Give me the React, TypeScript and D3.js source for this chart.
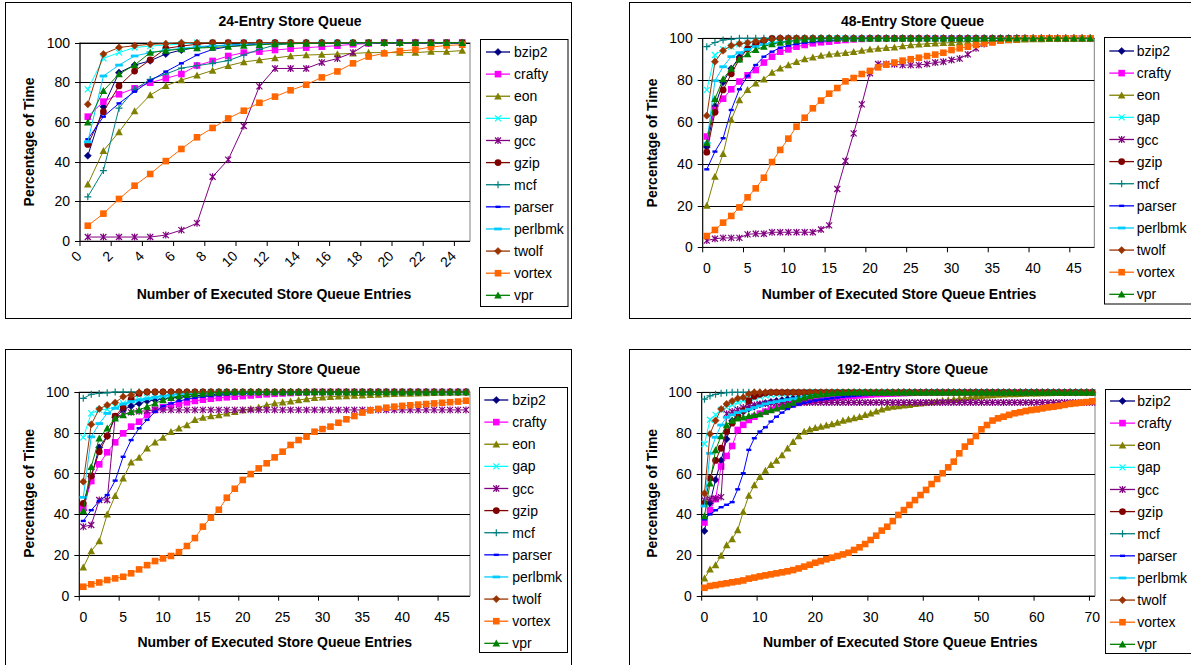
import React from 'react';
import * as d3 from 'd3';

const seriesNames = ['bzip2', 'crafty', 'eon', 'gap', 'gcc', 'gzip', 'mcf', 'parser', 'perlbmk', 'twolf', 'vortex', 'vpr'];
const seriesColors = ['#000080', '#FF00FF', '#808000', '#00FFFF', '#800080', '#800000', '#008080', '#0000FF', '#00CCFF', '#993300', '#FF6600', '#008000'];
const seriesMarkers = ['diamond', 'square', 'triangle', 'x', 'star', 'circle', 'plus', 'dash', 'longdash', 'diamond', 'square', 'triangle'];

const yTicks = [0, 20, 40, 60, 80, 100];
const xLabels24 = [0, 2, 4, 6, 8, 10, 12, 14, 16, 18, 20, 22, 24];
const xLabels48 = [0, 5, 10, 15, 20, 25, 30, 35, 40, 45];
const xLabels96 = [0, 5, 10, 15, 20, 25, 30, 35, 40, 45];
const xLabels192 = [0, 10, 20, 30, 40, 50, 60, 70];

// 24-entry store queue: categories 0..24, series in seriesNames order
const q24: number[][] = [
  [43, 67.7, 84.9, 88.7, 90.9, 94.3, 96.3, 97.6, 98.3, 98.8, 99.3, 99.6, 100, 100, 100, 100, 100, 100, 100, 100, 100, 100, 100, 100, 100],
  [62.7, 70.3, 74, 77, 79.8, 82, 84.2, 88.5, 90.8, 93.3, 95, 95.5, 96.3, 97, 97.5, 98, 98.5, 99.2, 99.6, 100, 100, 100, 100, 100, 100],
  [28.6, 45.5, 55, 65.5, 73.6, 78.3, 81.2, 83.5, 86, 88.4, 90.3, 91.3, 92.3, 93.3, 93.8, 94, 94.3, 94.6, 95, 95, 95, 95, 95.5, 95.5, 96],
  [76.5, 92.1, 95, 97.6, 98.3, 98.8, 99.3, 100, 100, 100, 100, 100, 100, 100, 100, 100, 100, 100, 100, 100, 100, 100, 100, 100, 100],
  [2, 2, 2, 2, 2, 3, 5.5, 9, 32.4, 41, 58, 78, 87, 87, 87, 90, 92, 95, 100, 100, 100, 100, 100, 100, 100],
  [48.7, 65.2, 78.2, 85.7, 91.3, 97.1, 98.3, 99.2, 100, 100, 100, 100, 100, 100, 100, 100, 100, 100, 100, 100, 100, 100, 100, 100, 100],
  [22.3, 35.5, 67, 76.5, 81.5, 84.2, 87.2, 88.4, 89.6, 91, 93.8, 96.6, 98.8, 99.5, 100, 100, 100, 100, 100, 100, 100, 100, 100, 100, 100],
  [51.3, 62.7, 69.4, 75.3, 80.8, 85.4, 89.6, 93.8, 96.6, 98, 98.8, 99.3, 100, 100, 100, 100, 100, 100, 100, 100, 100, 100, 100, 100, 100],
  [50, 83.2, 88.7, 93.3, 95, 96.3, 97.1, 98, 98.5, 98.8, 99.2, 99.5, 100, 100, 100, 100, 100, 100, 100, 100, 100, 100, 100, 100, 100],
  [68.9, 94.3, 97.6, 98.5, 99.2, 99.5, 100, 100, 100, 100, 100, 100, 100, 100, 100, 100, 100, 100, 100, 100, 100, 100, 100, 100, 100],
  [7.7, 13.8, 21.2, 27.9, 33.8, 40.3, 46.4, 52.3, 57, 61.8, 65.7, 69.7, 72.8, 76, 78.8, 82.5, 85.5, 89.6, 93, 94.6, 95.8, 96.5, 97.8, 98.6, 99],
  [59.8, 75.8, 84.2, 88.7, 95, 96, 96.8, 97.3, 97.6, 98, 98.5, 99, 99.3, 99.5, 99.6, 99.7, 99.8, 100, 100, 100, 100, 100, 100, 100, 100],
];

// 48-entry store queue: categories 0..47
const q48: number[][] = [
  [48, 67.5, 79, 85.5, 91, 95, 97, 98.5, 99.5, 100,
    100, 100, 100, 100, 100, 100, 100, 100, 100, 100,
    100, 100, 100, 100, 100, 100, 100, 100, 100, 100,
    100, 100, 100, 100, 100, 100, 100, 100, 100, 100,
    100, 100, 100, 100, 100, 100, 100, 100],
  [53, 65.7, 71.1, 75.6, 79.3, 82.3, 84.8, 88.4, 91.2, 93.6,
    94.7, 96, 96.8, 97.6, 98.1, 98.4, 98.9, 99.2, 99.5, 99.7,
    100, 100, 100, 100, 100, 100, 100, 100, 100, 100,
    100, 100, 100, 100, 100, 100, 100, 100, 100, 100,
    100, 100, 100, 100, 100, 100, 100, 100],
  [20, 33.8, 44.7, 61, 70.5, 75.3, 78.5, 80.4, 83.6, 85.6,
    87.2, 88.7, 90.1, 90.9, 91.7, 92.3, 92.7, 93.1, 93.6, 94.1,
    94.7, 95.1, 95.4, 95.7, 96.3, 96.8, 97.1, 97.4, 97.6, 97.8,
    97.9, 98.2, 98.4, 98.6, 98.7, 98.9, 99, 99.2, 99.3, 99.5,
    99.6, 99.7, 99.8, 99.9, 100, 100, 100, 100],
  [75.3, 92, 94.7, 96, 97.1, 97.9, 98.4, 98.9, 99.3, 99.6,
    100, 100, 100, 100, 100, 100, 100, 100, 100, 100,
    100, 100, 100, 100, 100, 100, 100, 100, 100, 100,
    100, 100, 100, 100, 100, 100, 100, 100, 100, 100,
    100, 100, 100, 100, 100, 100, 100, 100],
  [3.2, 4.1, 4.5, 4.5, 4.5, 6.2, 6.5, 6.5, 7.2, 7.2,
    7.2, 7.2, 7.2, 7.2, 8.5, 10.5, 27.9, 41.3, 54.5, 68.4,
    83.3, 87.7, 87.7, 87.6, 87.2, 87.2, 87.2, 87.7, 88.4, 88.8,
    89.6, 90.3, 92.3, 95.2, 97.3, 98.4, 99.2, 99.6, 100, 100,
    100, 100, 100, 100, 100, 100, 100, 100],
  [45.5, 64.6, 75.3, 83, 90, 95, 97.5, 99, 100, 100,
    100, 100, 100, 100, 100, 100, 100, 100, 100, 100,
    100, 100, 100, 100, 100, 100, 100, 100, 100, 100,
    100, 100, 100, 100, 100, 100, 100, 100, 100, 100,
    100, 100, 100, 100, 100, 100, 100, 100],
  [96, 98, 99.2, 99.5, 100, 100, 100, 100, 100, 100,
    100, 100, 100, 100, 100, 100, 100, 100, 100, 100,
    100, 100, 100, 100, 100, 100, 100, 100, 100, 100,
    100, 100, 100, 100, 100, 100, 100, 100, 100, 100,
    100, 100, 100, 100, 100, 100, 100, 100],
  [37.3, 45.8, 52.2, 65.7, 75.6, 82, 87.2, 91.2, 93.6, 95.5,
    96.5, 97.3, 97.9, 98.2, 98.6, 98.9, 99.3, 99.6, 100, 100,
    100, 100, 100, 100, 100, 100, 100, 100, 100, 100,
    100, 100, 100, 100, 100, 100, 100, 100, 100, 100,
    100, 100, 100, 100, 100, 100, 100, 100],
  [49.8, 79.7, 86.4, 91.2, 93.1, 94.7, 96, 97, 97.6, 98.1,
    98.4, 99, 99.4, 99.7, 100, 100, 100, 100, 100, 100,
    100, 100, 100, 100, 100, 100, 100, 100, 100, 100,
    100, 100, 100, 100, 100, 100, 100, 100, 100, 100,
    100, 100, 100, 100, 100, 100, 100, 100],
  [63, 88.8, 94.1, 96.5, 97.4, 97.9, 98.6, 99, 99.5, 100,
    100, 100, 100, 100, 100, 100, 100, 100, 100, 100,
    100, 100, 100, 100, 100, 100, 100, 100, 100, 100,
    100, 100, 100, 100, 100, 100, 100, 100, 100, 100,
    100, 100, 100, 100, 100, 100, 100, 100],
  [5.4, 8.3, 11.8, 15, 19.1, 23.9, 28.2, 33.3, 40.8, 46.6,
    52, 57.7, 62, 66.5, 70.2, 73.5, 76.2, 79.4, 81, 82.9,
    84.4, 86.1, 87.4, 88.4, 89.3, 90, 90.7, 91.5, 92.2, 93.1,
    94.4, 95.2, 96, 96.8, 97.6, 98, 98.9, 99.3, 99.6, 99.8,
    100, 100, 100, 100, 100, 100, 100, 100],
  [50, 71, 80.5, 85.5, 90, 92.5, 94.5, 96, 97.3, 98,
    98.5, 99, 99.5, 99.7, 100, 100, 100, 100, 100, 100,
    100, 100, 100, 100, 100, 100, 100, 100, 100, 100,
    100, 100, 100, 100, 100, 100, 100, 100, 100, 100,
    100, 100, 100, 100, 100, 100, 100, 100],
];

// 96-entry store queue: categories 0..48
const q96: number[][] = [
  [42, 58.4, 72.8, 78.4, 87.6, 91.2, 93.1, 94.4, 95.6, 96.1,
    96.7, 97.1, 97.4, 97.8, 98.1, 98.4, 98.7, 99, 99.2, 99.4,
    99.6, 99.8, 100, 100, 100, 100, 100, 100, 100, 100,
    100, 100, 100, 100, 100, 100, 100, 100, 100, 100,
    100, 100, 100, 100, 100, 100, 100, 100, 100],
  [43, 56.3, 64.5, 70.4, 75.3, 79.7, 83, 85.4, 88.7, 91.2,
    92.5, 93.5, 94.3, 94.9, 95.6, 96.2, 96.7, 97.1, 97.4, 97.7,
    98, 98.3, 98.6, 98.9, 99.1, 99.3, 99.5, 99.7, 99.8, 100,
    100, 100, 100, 100, 100, 100, 100, 100, 100, 100,
    100, 100, 100, 100, 100, 100, 100, 100, 100],
  [13.9, 21.9, 26.8, 39.9, 49.1, 57.6, 65.5, 67.8, 72.3, 75.3,
    77.7, 80.5, 82.2, 83.8, 86.3, 87.4, 88.2, 88.7, 89.5, 90.3,
    91.2, 91.8, 92.5, 93.6, 94.4, 94.9, 95.4, 96.1, 96.6, 97.1,
    97.4, 97.7, 97.9, 98, 98.2, 98.4, 98.6, 98.8, 99, 99.1,
    99.2, 99.3, 99.4, 99.5, 99.6, 99.7, 99.8, 99.9, 100],
  [77.7, 89.5, 91.2, 91.5, 92.8, 94.4, 95.7, 96.4, 97.1, 97.7,
    98.3, 98.8, 99.2, 99.5, 99.8, 100, 100, 100, 100, 100,
    100, 100, 100, 100, 100, 100, 100, 100, 100, 100,
    100, 100, 100, 100, 100, 100, 100, 100, 100, 100,
    100, 100, 100, 100, 100, 100, 100, 100, 100],
  [33.9, 34.7, 47, 47, 87.9, 89, 90, 90.5, 90.8, 91.2,
    91.2, 91.2, 91.2, 91.2, 91.2, 91.2, 91.2, 91.2, 91.2, 91.2,
    91.2, 91.2, 91.2, 91.2, 91.2, 91.2, 91.2, 91.2, 91.2, 91.2,
    91.2, 91.2, 91.2, 91.2, 91.2, 91.2, 91.2, 91.2, 91.2, 91.2,
    91.2, 91.2, 91.2, 91.2, 91.2, 91.2, 91.2, 91.2, 91.2],
  [45.3, 58.8, 70.7, 78.4, 88.2, 92.5, 96.4, 99.3, 100, 100,
    100, 100, 100, 100, 100, 100, 100, 100, 100, 100,
    100, 100, 100, 100, 100, 100, 100, 100, 100, 100,
    100, 100, 100, 100, 100, 100, 100, 100, 100, 100,
    100, 100, 100, 100, 100, 100, 100, 100, 100],
  [96.9, 98.9, 99.3, 99.6, 100, 100, 100, 100, 100, 100,
    100, 100, 100, 100, 100, 100, 100, 100, 100, 100,
    100, 100, 100, 100, 100, 100, 100, 100, 100, 100,
    100, 100, 100, 100, 100, 100, 100, 100, 100, 100,
    100, 100, 100, 100, 100, 100, 100, 100, 100],
  [36.7, 42, 46.5, 49.4, 56.5, 68.2, 76.4, 82.2, 86.3, 90.3,
    93.1, 94.4, 95.6, 96.4, 97.2, 97.7, 98, 98.4, 98.7, 99,
    99.2, 99.4, 99.6, 99.8, 100, 100, 100, 100, 100, 100,
    100, 100, 100, 100, 100, 100, 100, 100, 100, 100,
    100, 100, 100, 100, 100, 100, 100, 100, 100],
  [48.3, 78, 84.5, 89.5, 92, 94.1, 95.3, 96.1, 96.7, 97.4,
    98, 98.5, 99, 99.3, 99.6, 99.8, 100, 100, 100, 100,
    100, 100, 100, 100, 100, 100, 100, 100, 100, 100,
    100, 100, 100, 100, 100, 100, 100, 100, 100, 100,
    100, 100, 100, 100, 100, 100, 100, 100, 100],
  [56, 84.1, 91.7, 93.6, 94.8, 97.7, 98.5, 99.8, 100, 100,
    100, 100, 100, 100, 100, 100, 100, 100, 100, 100,
    100, 100, 100, 100, 100, 100, 100, 100, 100, 100,
    100, 100, 100, 100, 100, 100, 100, 100, 100, 100,
    100, 100, 100, 100, 100, 100, 100, 100, 100],
  [4.4, 5.6, 6.5, 7.7, 8.5, 9.3, 11, 12.9, 15, 17,
    18.3, 19.5, 21.4, 24.4, 28.3, 33.9, 38.3, 42.2, 48.1, 52.5,
    56.8, 59.7, 62.5, 65, 67.9, 70.7, 74, 76.4, 78.1, 80.5,
    81.8, 83, 84.9, 86.6, 88.2, 89.9, 91, 91.7, 92.3, 92.8,
    93.2, 93.5, 93.8, 94.1, 94.4, 94.7, 95, 95.3, 95.7],
  [41.7, 63.3, 77.3, 82.2, 87.1, 88.7, 90.3, 91.2, 92.8, 94.4,
    96.1, 97.2, 98, 98.6, 99, 99.3, 99.5, 99.7, 99.8, 100,
    100, 100, 100, 100, 100, 100, 100, 100, 100, 100,
    100, 100, 100, 100, 100, 100, 100, 100, 100, 100,
    100, 100, 100, 100, 100, 100, 100, 100, 100],
];

// 192-entry store queue: categories 0..70
const q192: number[][] = [
  [31.8, 45.5, 57, 66.5, 77, 86, 88.7, 90.5, 92, 93,
    94, 94.7, 95.3, 95.8, 96.2, 96.6, 97, 97.3, 97.6, 97.9,
    98.1, 98.3, 98.5, 98.7, 98.9, 99, 99.1, 99.2, 99.3, 99.4,
    99.5, 99.6, 99.7, 99.8, 99.9, 100, 100, 100, 100, 100,
    100, 100, 100, 100, 100, 100, 100, 100, 100, 100,
    100, 100, 100, 100, 100, 100, 100, 100, 100, 100,
    100, 100, 100, 100, 100, 100, 100, 100, 100, 100, 100],
  [36, 42, 47.5, 63.5, 68.7, 73.6, 81.5, 84, 86.4, 88,
    89.5, 90.5, 91.5, 92.3, 93, 93.6, 94.2, 94.8, 95.3, 95.8,
    96.2, 96.6, 97, 97.3, 97.6, 97.9, 98.1, 98.3, 98.5, 98.7,
    98.9, 99.1, 99.2, 99.3, 99.4, 99.5, 99.6, 99.7, 99.8, 99.9,
    100, 100, 100, 100, 100, 100, 100, 100, 100, 100,
    100, 100, 100, 100, 100, 100, 100, 100, 100, 100,
    100, 100, 100, 100, 100, 100, 100, 100, 100, 100, 100],
  [8.5, 13, 15.1, 19.7, 24.9, 27.9, 32.3, 41.3, 49.2, 54.4,
    58.5, 61.5, 64.3, 66.4, 69.2, 72.5, 75.7, 78.5, 80.7, 81.8,
    82.6, 83.1, 83.8, 84.4, 85.1, 86.1, 86.7, 87.4, 88, 88.9,
    89.7, 90.7, 91.6, 92.5, 93, 93.3, 93.6, 93.9, 94.3, 94.6,
    94.9, 95.2, 95.6, 95.9, 96.2, 96.6, 96.9, 97.2, 97.5, 97.9,
    98.2, 98.5, 98.7, 98.9, 99, 99.1, 99.2, 99.3, 99.4, 99.5,
    99.5, 99.6, 99.6, 99.7, 99.7, 99.8, 99.8, 99.9, 99.9, 100, 100],
  [74.6, 86.5, 88.9, 91.3, 92.6, 93.8, 94.9, 95.9, 96.6, 97.2,
    97.9, 98.4, 98.8, 99.1, 99.4, 99.6, 99.8, 100, 100, 100,
    100, 100, 100, 100, 100, 100, 100, 100, 100, 100,
    100, 100, 100, 100, 100, 100, 100, 100, 100, 100,
    100, 100, 100, 100, 100, 100, 100, 100, 100, 100,
    100, 100, 100, 100, 100, 100, 100, 100, 100, 100,
    100, 100, 100, 100, 100, 100, 100, 100, 100, 100, 100],
  [47, 47.5, 47.8, 48.5, 89.5, 90.5, 91.5, 92.5, 93.3, 93.8,
    94.2, 94.5, 94.8, 95, 95, 95, 95, 95, 95, 95,
    95, 95, 95, 95, 95, 95, 95, 95, 95, 95,
    95, 95, 95, 95, 95, 95, 95, 95, 95, 95,
    95, 95, 95, 95, 95, 95, 95, 95, 95, 95,
    95, 95, 95, 95, 95, 95, 95, 95, 95, 95,
    95, 95, 95, 95, 95, 95, 95, 95, 95, 95, 95],
  [45.4, 57.7, 66.5, 72.5, 80.7, 84.8, 88, 91, 95.9, 98,
    99, 99.6, 100, 100, 100, 100, 100, 100, 100, 100,
    100, 100, 100, 100, 100, 100, 100, 100, 100, 100,
    100, 100, 100, 100, 100, 100, 100, 100, 100, 100,
    100, 100, 100, 100, 100, 100, 100, 100, 100, 100,
    100, 100, 100, 100, 100, 100, 100, 100, 100, 100,
    100, 100, 100, 100, 100, 100, 100, 100, 100, 100, 100],
  [96.6, 98.2, 99, 99.5, 99.8, 100, 100, 100, 100, 100,
    100, 100, 100, 100, 100, 100, 100, 100, 100, 100,
    100, 100, 100, 100, 100, 100, 100, 100, 100, 100,
    100, 100, 100, 100, 100, 100, 100, 100, 100, 100,
    100, 100, 100, 100, 100, 100, 100, 100, 100, 100,
    100, 100, 100, 100, 100, 100, 100, 100, 100, 100,
    100, 100, 100, 100, 100, 100, 100, 100, 100, 100, 100],
  [37.5, 40, 42, 43.5, 44.7, 46, 52.3, 60.2, 71.7, 77.4,
    80.7, 82.8, 85.6, 88, 90, 91.8, 93, 94, 94.8, 95.4,
    96, 96.4, 96.8, 97.1, 97.4, 97.7, 98, 98.2, 98.4, 98.6,
    98.8, 99, 99.2, 99.4, 99.6, 99.8, 100, 100, 100, 100,
    100, 100, 100, 100, 100, 100, 100, 100, 100, 100,
    100, 100, 100, 100, 100, 100, 100, 100, 100, 100,
    100, 100, 100, 100, 100, 100, 100, 100, 100, 100, 100],
  [44.1, 70, 77.9, 83.9, 87.7, 88.9, 90, 90.8, 91.6, 92.5,
    93.3, 94.3, 94.9, 95.4, 95.9, 96.4, 96.8, 97.2, 97.6, 98,
    98.3, 98.6, 98.9, 99.1, 99.3, 99.5, 99.7, 99.9, 100, 100,
    100, 100, 100, 100, 100, 100, 100, 100, 100, 100,
    100, 100, 100, 100, 100, 100, 100, 100, 100, 100,
    100, 100, 100, 100, 100, 100, 100, 100, 100, 100,
    100, 100, 100, 100, 100, 100, 100, 100, 100, 100, 100],
  [50.3, 79.5, 86.1, 91.8, 94.3, 95.7, 97, 97.5, 99.2, 100,
    100, 100, 100, 100, 100, 100, 100, 100, 100, 100,
    100, 100, 100, 100, 100, 100, 100, 100, 100, 100,
    100, 100, 100, 100, 100, 100, 100, 100, 100, 100,
    100, 100, 100, 100, 100, 100, 100, 100, 100, 100,
    100, 100, 100, 100, 100, 100, 100, 100, 100, 100,
    100, 100, 100, 100, 100, 100, 100, 100, 100, 100, 100],
  [3.9, 4.8, 5.2, 5.7, 6.1, 6.6, 7, 7.5, 8.4, 8.9,
    9.5, 10, 10.5, 11, 11.5, 12, 12.6, 13.4, 14.3, 15.2,
    16.2, 17, 17.9, 18.7, 19.5, 20.3, 21.1, 22.5, 23.8, 25.4,
    27.4, 29.5, 32, 33.9, 36.7, 39.7, 42.1, 44.6, 47, 49.5,
    52, 54.9, 57.4, 60.2, 63.1, 65.9, 70, 73.3, 75.7, 78.5,
    81.8, 83.9, 86.1, 87.2, 88, 88.9, 89.7, 90.2, 90.8, 91.3,
    91.6, 92.1, 92.6, 92.9, 93.3, 93.8, 94.3, 94.6, 94.9, 95.2, 95.6],
  [39.2, 55.2, 71.6, 78.5, 83.9, 86.1, 87.2, 87.7, 88.4, 88.9,
    89.3, 90.5, 91.3, 92.1, 93, 93.8, 94.9, 96.6, 97.5, 98.2,
    98.7, 99, 99.3, 99.5, 99.7, 99.9, 100, 100, 100, 100,
    100, 100, 100, 100, 100, 100, 100, 100, 100, 100,
    100, 100, 100, 100, 100, 100, 100, 100, 100, 100,
    100, 100, 100, 100, 100, 100, 100, 100, 100, 100,
    100, 100, 100, 100, 100, 100, 100, 100, 100, 100, 100],
];

type PanelCfg = {
  title: string;
  data: number[][];
  n: number;
  labels: number[];
  rotated: boolean;
  frame: [number, number, number, number];
  plot: [number, number, number, number]; // x0, x1, yTop(100), yBot(0)
  titleXY: [number, number];
  yTitleXY: [number, number];
  xTitleXY: [number, number];
  labelY: number;
  legend: { x: number; y: number; w: number; h: number; first: number; step: number; s0: number; s1: number; tx: number };
};

const panels: PanelCfg[] = [
  {
    title: '24-Entry Store Queue', data: q24, n: 25, labels: xLabels24, rotated: true,
    frame: [5.5, 2.5, 566, 316], plot: [80, 470, 42.7, 241],
    titleXY: [290, 26], yTitleXY: [28.5, 142], xTitleXY: [274, 299], labelY: 257,
    legend: { x: 480.5, y: 39.5, w: 87.5, h: 267, first: 52, step: 22.12, s0: 486, s1: 510, tx: 514 },
  },
  {
    title: '48-Entry Store Queue', data: q48, n: 48, labels: xLabels48, rotated: false,
    frame: [629.5, 2.5, 600, 316], plot: [702.7, 1094.3, 38.3, 247.3],
    titleXY: [912.5, 26], yTitleXY: [651.7, 143], xTitleXY: [899, 299], labelY: 273,
    legend: { x: 1104.5, y: 37.5, w: 120, h: 266.5, first: 51, step: 22.12, s0: 1109.3, s1: 1134, tx: 1136.7 },
  },
  {
    title: '96-Entry Store Queue', data: q96, n: 49, labels: xLabels96, rotated: false,
    frame: [5.5, 349.5, 566, 330], plot: [79.3, 470, 392, 595.7],
    titleXY: [288.7, 374], yTitleXY: [28.5, 493.3], xTitleXY: [274.7, 647], labelY: 622.3,
    legend: { x: 479.5, y: 387.5, w: 88, h: 265, first: 400, step: 22.12, s0: 484.3, s1: 508.3, tx: 512.3 },
  },
  {
    title: '192-Entry Store Queue', data: q192, n: 71, labels: xLabels192, rotated: false,
    frame: [629.5, 349.5, 600, 330], plot: [701.7, 1095, 392.3, 595.7],
    titleXY: [912.5, 374], yTitleXY: [651.7, 493.3], xTitleXY: [900.3, 647], labelY: 622.3,
    legend: { x: 1105.5, y: 389.5, w: 120, h: 264, first: 401, step: 22.12, s0: 1110, s1: 1135, tx: 1137.3 },
  },
];

const FONT = 'Liberation Sans, Arial, Helvetica, sans-serif';

function Marker({ kind, x, y, color }: { kind: string; x: number; y: number; color: string }) {
  const t = `translate(${x},${y})`;
  switch (kind) {
    case 'diamond':
      return <path transform={t} d="M0,-3.6L3.6,0L0,3.6L-3.6,0Z" fill={color} stroke={color} strokeWidth={0.5} />;
    case 'square':
      return <rect transform={t} x={-3.3} y={-3.3} width={6.6} height={6.6} fill={color} />;
    case 'triangle':
      return <path transform={t} d="M0,-3.8L3.8,3.2L-3.8,3.2Z" fill={color} />;
    case 'x':
      return <path transform={t} d="M-3,-3L3,3M-3,3L3,-3" stroke={color} strokeWidth={1.2} fill="none" />;
    case 'star':
      return <path transform={t} d="M-3,-3L3,3M-3,3L3,-3M0,-3.5L0,3.5" stroke={color} strokeWidth={1.2} fill="none" />;
    case 'circle':
      return <circle cx={x} cy={y} r={3.4} fill={color} />;
    case 'plus':
      return <path transform={t} d="M-3.5,0L3.5,0M0,-3.5L0,3.5" stroke={color} strokeWidth={1.2} fill="none" />;
    case 'dash':
      return <rect transform={t} x={-2.5} y={-1.2} width={5} height={2.4} fill={color} />;
    case 'longdash':
      return <rect transform={t} x={-3.8} y={-1.4} width={7.6} height={2.8} fill={color} />;
    default:
      return null;
  }
}

function Panel({ cfg }: { cfg: PanelCfg }) {
  const [x0, x1, yTop, yBot] = cfg.plot;
  const x = d3.scaleLinear().domain([0, cfg.n]).range([x0, x1]);
  const y = d3.scaleLinear().domain([0, 100]).range([yBot, yTop]);
  const line = d3.line<number>().x((_, i) => x(i + 0.5)).y((d) => y(d));
  const lg = cfg.legend;
  return (
    <g>
      <rect x={cfg.frame[0]} y={cfg.frame[1]} width={cfg.frame[2]} height={cfg.frame[3]} fill="#fff" stroke="#000" strokeWidth={1} />
      <text x={cfg.titleXY[0]} y={cfg.titleXY[1]} textAnchor="middle" fontFamily={FONT} fontWeight="bold" fontSize={14}>{cfg.title}</text>
      {/* plot area border */}
      <rect x={x0} y={yTop} width={x1 - x0} height={yBot - yTop} fill="none" stroke="#808080" strokeWidth={1} />
      {yTicks.filter((v) => v > 0).map((v) => (
        <line key={'g' + v} x1={x0} x2={x1} y1={Math.round(y(v)) + 0.5} y2={Math.round(y(v)) + 0.5} stroke="#000" strokeWidth={1} />
      ))}
      {/* y axis */}
      <line x1={x0} x2={x0} y1={yTop} y2={yBot} stroke="#000" strokeWidth={1} />
      {yTicks.map((v) => (
        <g key={'yt' + v}>
          <line x1={x0 - 5} x2={x0} y1={Math.round(y(v)) + 0.5} y2={Math.round(y(v)) + 0.5} stroke="#000" />
          <text x={x0 - 10} y={y(v)} dy="0.36em" textAnchor="end" fontFamily={FONT} fontSize={14}>{v}</text>
        </g>
      ))}
      {/* x axis */}
      <line x1={x0} x2={x1} y1={Math.round(yBot) + 0.5} y2={Math.round(yBot) + 0.5} stroke="#000" strokeWidth={1} />
      {cfg.labels.map((v) => (
        <line key={'xt' + v} x1={x(v)} x2={x(v)} y1={yBot} y2={yBot + 5} stroke="#000" />
      ))}
      {cfg.labels.map((v) =>
        cfg.rotated ? (
          <text key={'xl' + v} transform={`translate(${x(v) + 2.5},${cfg.labelY}) rotate(-45)`} textAnchor="end" fontFamily={FONT} fontSize={14}>{v}</text>
        ) : (
          <text key={'xl' + v} x={x(v + 0.5)} y={cfg.labelY} textAnchor="middle" fontFamily={FONT} fontSize={14}>{v}</text>
        ),
      )}
      <text transform={`translate(${cfg.yTitleXY[0]},${cfg.yTitleXY[1]}) rotate(-90)`} dy="0.36em" textAnchor="middle" fontFamily={FONT} fontWeight="bold" fontSize={14}>Percentage of Time</text>
      <text x={cfg.xTitleXY[0]} y={cfg.xTitleXY[1]} textAnchor="middle" fontFamily={FONT} fontWeight="bold" fontSize={14}>Number of Executed Store Queue Entries</text>
      {/* series */}
      {cfg.data.map((vals, si) => (
        <g key={'s' + si}>
          <path d={line(vals) || ''} fill="none" stroke={seriesColors[si]} strokeWidth={1} />
          {vals.map((v, i) => (
            <Marker key={i} kind={seriesMarkers[si]} x={x(i + 0.5)} y={y(v)} color={seriesColors[si]} />
          ))}
        </g>
      ))}
      {/* legend */}
      <rect x={lg.x} y={lg.y} width={lg.w} height={lg.h} fill="#fff" stroke="#000" strokeWidth={1} />
      {seriesNames.map((name, si) => {
        const ly = lg.first + si * lg.step;
        return (
          <g key={'l' + si}>
            <line x1={lg.s0} x2={lg.s1} y1={ly} y2={ly} stroke={seriesColors[si]} strokeWidth={1.3} />
            <Marker kind={seriesMarkers[si]} x={(lg.s0 + lg.s1) / 2} y={ly} color={seriesColors[si]} />
            <text x={lg.tx} y={ly} dy="0.36em" fontFamily={FONT} fontSize={14}>{name}</text>
          </g>
        );
      })}
    </g>
  );
}

export default function App() {
  return (
    <svg width={1191} height={665} style={{ position: 'absolute', left: 0, top: 0, background: '#fff' }}>
      <rect x={0} y={0} width={1191} height={665} fill="#fff" />
      {panels.map((p, i) => (
        <Panel key={i} cfg={p} />
      ))}
    </svg>
  );
}
